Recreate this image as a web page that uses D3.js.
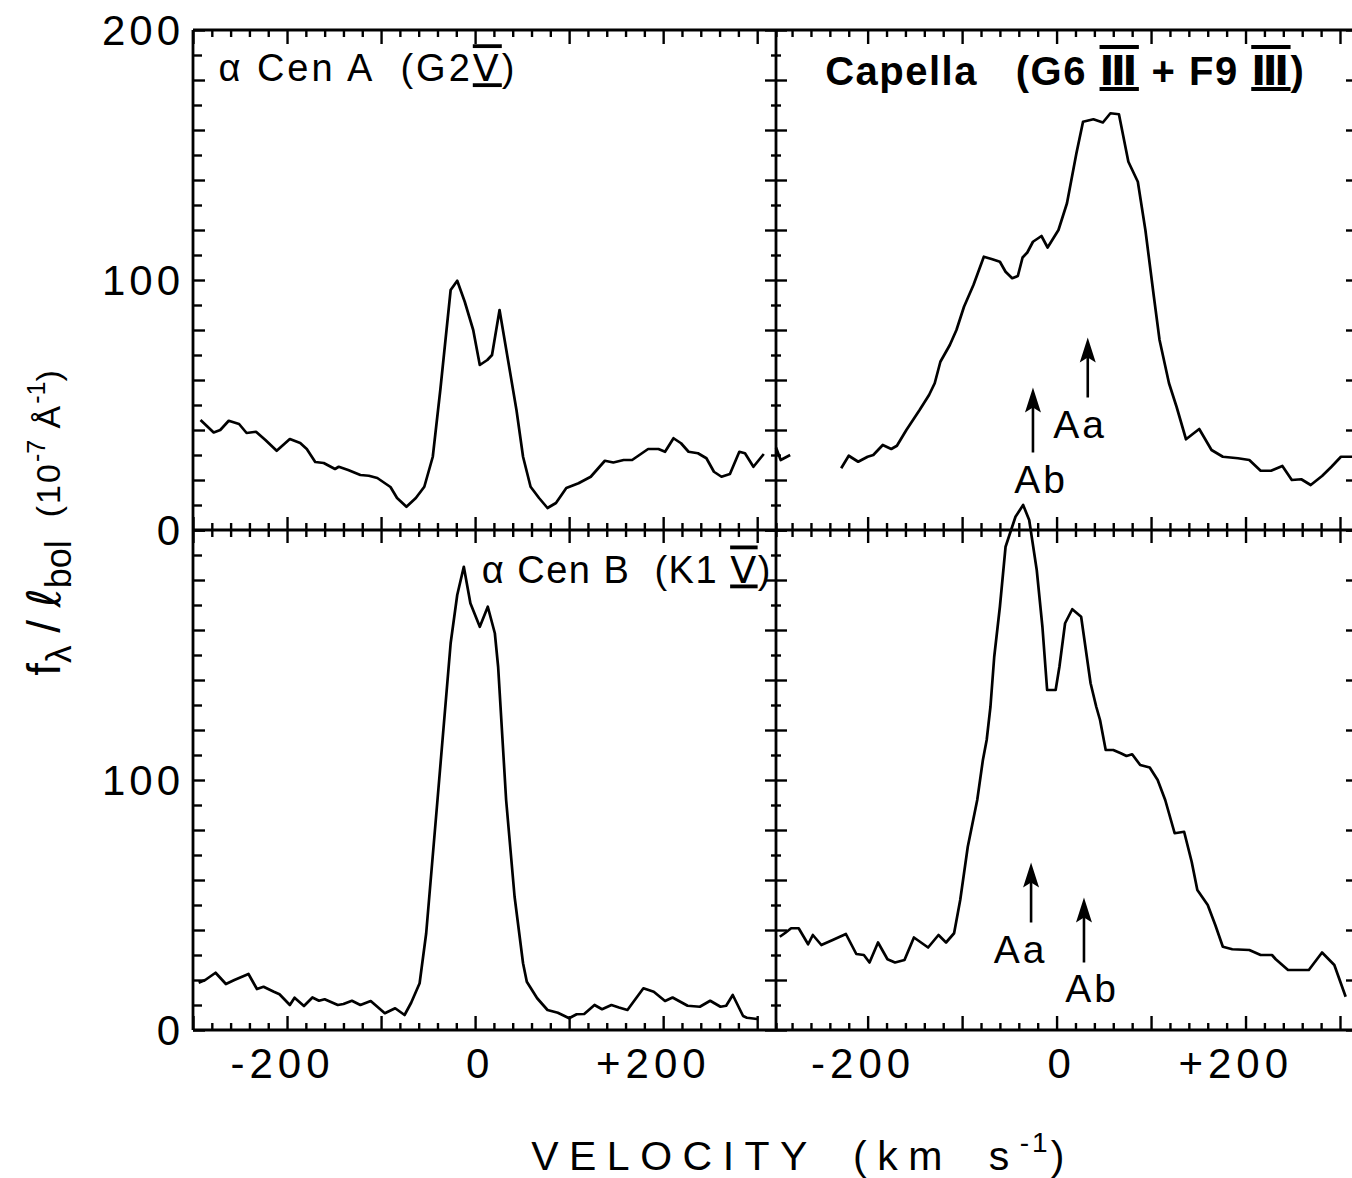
<!DOCTYPE html>
<html><head><meta charset="utf-8">
<script src="https://cdn.jsdelivr.net/npm/d3@7"></script>
<style>
body{margin:0;background:#fff}
svg{display:block}
text{font-family:"Liberation Sans",Arial,"DejaVu Sans",sans-serif;fill:#000;white-space:pre}
.rn{text-decoration:overline underline;text-decoration-thickness:3px}
</style></head>
<body><svg id="chart" width="1352" height="1178"></svg>
<script>
// ---------------- data ----------------
const cenA_vel  = [-292,-278,-271,-262,-251,-243,-233,-223,-211,-197,-186,-179,-170,-161,-149,-145,-135,-122,-113,-104,-90,-83,-73,-63,-54,-45,-37,-26,-19,-11,-2,5,13,18,26,35,44,51,59,68,77,86,97,110,123,138,147,158,167,184,195,202,211,219,227,237,246,254,262,271,281,287,296,307];
const cenA_flux = [44,39,40,43.7,42.4,38.8,39.3,36,31.7,36.4,34.8,32.4,27.2,26.8,24.4,25.3,24,22,21.7,20.8,17.2,12.8,9.3,12.8,17.3,29.3,56,96,99.7,91.3,80,66,68,70,88,68,48,29.3,17.3,12.8,8.8,10.8,16.8,18.7,21.3,27.7,27,28,28,32.4,32.4,31.3,36.7,34.7,31.3,30.7,28.7,23.3,21.3,22.4,31.3,30.7,25.3,30.4];

const capTop_vel  = [-297,-292,-282,-255,-228,-220,-210,-200,-194,-184,-175,-169,-159,-145,-135,-129,-123,-113,-106,-98,-88,-77,-68,-60,-54,-47,-41,-36,-31,-25,-16,-9.5,2,11,21,28,39,49,57,66,76,86,94,103,109,119,127,137,151,164,176,192,204,216,227,239,249,259,269,281,291,301,313];
const capTop_flux = [33,28,30,null,24.7,29.7,27.3,29.3,30,34,32.4,33.7,40,48,54,58.7,67.3,74,80,89.3,98,109.3,108.3,107.3,103.3,100.7,101.6,109,111,115.3,117.6,113,120,130.7,150.7,163.3,164.3,163,166.7,166.3,147.3,139.3,120,93.3,76,58.7,49.3,36.3,40.4,32,29.3,28.7,28,23.7,23.7,25.6,20,20.3,18,21.6,25.3,29.3,29.3];

const cenB_vel  = [-294,-287,-276,-265,-256,-241,-232,-225,-214,-208,-197,-192,-182,-173,-166,-160,-146,-140,-131,-122,-111,-96,-85,-75,-68,-59,-52,-40,-26,-19,-12,-5,5,13.5,21,24.5,33,42,51,55,66,77,88,100,108,116,127,135,145,153,162,179,190,202,210,226,239,250,261,267,274,285,289,300];
const cenB_flux = [18.9,20,22.9,18.4,20,22.4,16.4,17.3,15.3,14.3,10,12.9,9.6,13,11.7,12.3,10,10.4,11.7,10,11.6,6.7,8.7,6,10.9,18.7,38.7,92,154.7,174,185.3,170.7,161.3,169.3,158.7,145.3,92,53.3,26.7,19.3,12.7,8,6.9,4.7,6.3,6.4,10,8.3,10,9,8,16.7,15.3,11.6,13,9.7,9.3,11.7,9.3,9.7,14,5.6,4.9,4.4];

const capBot_vel  = [-293,-287,-281,-273,-263,-258,-249,-237,-223,-212,-204,-198,-189,-179,-171,-161,-151,-136,-125,-117,-108.5,-102,-94,-84,-78,-74,-70,-66,-60,-54,-43.5,-35.4,-29,-21,-15,-10,-1,3,9,16.6,26,36,42,46,52,60,68,74,80,88.5,98.6,107,115,125,135,143,149,160,168,176,186,204,216,228,232,245,267,281,294,306];
const capBot_flux = [37.3,38.9,40.7,40.7,34.3,38,34,36,38.4,30.4,30,27,35,28.3,27,28,37,33,38,35,38.7,52,73.3,92,108,116,129.3,149.3,169.3,193.3,205.3,210,204,184,161.3,136,136,145.3,162.7,168.3,165.3,138.7,129.3,124,112,112,110.7,109.6,110.3,106,105,100,92,78.7,79.3,67.3,56,50,42,33.3,32.3,32,30,30,28.3,24,24,31,26,13.3];

const xTickValues = [-200, 0, 200];
const xTickLabels = ["-200", "0", "+200"];
const yTickValuesTop = [200, 100, 0];
const yTickValuesBottom = [100, 0];

// panel titles split into plain text / roman numeral parts
const titleA = [["α Cen A  (G2", false], ["Ⅴ", true], [")", false]];
const titleCap = [["Capella   (G6 ", false], ["Ⅲ", true], [" + F9 ", false], ["Ⅲ", true], [")", false]];
const titleB = [["α Cen B  (K1 ", false], ["Ⅴ", true], [")", false]];

// arrows
const arrowPanels  = ["top", "top", "bottom", "bottom"];
const arrowVel     = [33, -25, -27, 29];
const arrowTip     = [77, 57, 67, 53];
const arrowTail    = [53, 31, 43, 27];
const arrowLabel   = ["Aa", "Ab", "Aa", "Ab"];
const arrowLabVel  = [25, -16.5, -38, 37.5];
const arrowLabFlux = [36.8, 14.8, 26.8, 11.2];

// ---------------- layout ----------------
const svg = d3.select("#chart");
const xL = d3.scaleLinear().domain([-300, 320]).range([193, 776]);
const xR = d3.scaleLinear().domain([-297, 318]).range([776, 1357]);
const yT = d3.scaleLinear().domain([0, 200]).range([530, 30]);
const yB = d3.scaleLinear().domain([0, 200]).range([1030, 530]);

const frameW = 2.8, tickW = 2.4;

function styleAxis(g){
  g.select(".domain").remove();
  g.selectAll("line").attr("stroke","#000").attr("stroke-width",tickW);
  g.selectAll("text").remove();
}
const minorX = (s) => d3.range(Math.ceil(s.domain()[0]/20)*20, s.domain()[1]+0.1, 20).filter(v=>v%100!==0);
const majorX = (s) => d3.range(Math.ceil(s.domain()[0]/100)*100, s.domain()[1]+0.1, 100);
const minorY = d3.range(10, 200, 20);
const majorY = d3.range(0, 201, 20);

[xL, xR].forEach(x => {
  svg.append("g").attr("transform",`translate(0,${yT(200)})`)
    .call(d3.axisBottom(x).tickValues(minorX(x)).tickSize(7).tickFormat("")).call(styleAxis);
  svg.append("g").attr("transform",`translate(0,${yT(200)})`)
    .call(d3.axisBottom(x).tickValues(majorX(x)).tickSize(14).tickFormat("")).call(styleAxis);
  [d3.axisBottom, d3.axisTop].forEach(ax => {
    svg.append("g").attr("transform",`translate(0,${yT(0)})`)
      .call(ax(x).tickValues(minorX(x)).tickSize(7).tickFormat("")).call(styleAxis);
    svg.append("g").attr("transform",`translate(0,${yT(0)})`)
      .call(ax(x).tickValues(majorX(x)).tickSize(13).tickFormat("")).call(styleAxis);
  });
  svg.append("g").attr("transform",`translate(0,${yB(0)})`)
    .call(d3.axisTop(x).tickValues(minorX(x)).tickSize(7).tickFormat("")).call(styleAxis);
  svg.append("g").attr("transform",`translate(0,${yB(0)})`)
    .call(d3.axisTop(x).tickValues(majorX(x)).tickSize(14).tickFormat("")).call(styleAxis);
});

[yT, yB].forEach(y => {
  svg.append("g").attr("transform",`translate(${xL(-300)},0)`)
    .call(d3.axisRight(y).tickValues(minorY).tickSize(9).tickFormat("")).call(styleAxis);
  svg.append("g").attr("transform",`translate(${xL(-300)},0)`)
    .call(d3.axisRight(y).tickValues(majorY).tickSize(12).tickFormat("")).call(styleAxis);
  [d3.axisRight, d3.axisLeft].forEach(ax => {
    svg.append("g").attr("transform",`translate(${xL(320)},0)`)
      .call(ax(y).tickValues(minorY).tickSize(5).tickFormat("")).call(styleAxis);
    svg.append("g").attr("transform",`translate(${xL(320)},0)`)
      .call(ax(y).tickValues(majorY).tickSize(11).tickFormat("")).call(styleAxis);
  });
  svg.append("g").attr("transform",`translate(${xR(318)},0)`)
    .call(d3.axisLeft(y).tickValues(majorY).tickSize(11).tickFormat("")).call(styleAxis);
});

const frame = svg.append("g").attr("stroke","#000").attr("stroke-width",frameW).attr("fill","none");
[yT(200), yT(0), yB(0)].forEach(yy => frame.append("line").attr("x1",xL(-300)).attr("x2",xR(318)).attr("y1",yy).attr("y2",yy));
[xL(-300), xL(320), xR(318)].forEach(xx => frame.append("line").attr("x1",xx).attr("x2",xx).attr("y1",yT(200)).attr("y2",yB(0)));

function drawCurve(vel, flux, x, y){
  const pts = vel.map((v,i)=>[v, flux[i]]);
  const line = d3.line().defined(d=>d[1]!==null).x(d=>x(d[0])).y(d=>y(d[1]));
  svg.append("path").datum(pts).attr("d",line)
    .attr("fill","none").attr("stroke","#000").attr("stroke-width",2.7).attr("stroke-linejoin","round");
}
drawCurve(cenA_vel, cenA_flux, xL, yT);
drawCurve(capTop_vel, capTop_flux, xR, yT);
drawCurve(cenB_vel, cenB_flux, xL, yB);
drawCurve(capBot_vel, capBot_flux, xR, yB);

const tickFont = 42;
function yLabel(v, y){
  svg.append("text").attr("x", 184).attr("y", y(v)).attr("dy","0.36em")
    .attr("text-anchor","end").attr("font-size",tickFont).attr("letter-spacing",4).text(v);
}
yTickValuesTop.forEach(v => yLabel(v, yT));
yTickValuesBottom.forEach(v => yLabel(v, yB));

[xL, xR].forEach(x => {
  xTickValues.forEach((v,i) => {
    const lab = xTickLabels[i];
    const t = svg.append("text").attr("y", 1078).attr("font-size",tickFont)
      .attr("letter-spacing",5).attr("text-anchor","start").text(lab);
    const node = t.node();
    const signLen = (lab[0]==="-"||lab[0]==="+") ? node.getSubStringLength(0,1) : 0;
    const digitsLen = node.getComputedTextLength() - signLen;
    t.attr("x", x(v) + 5 - signLen - digitsLen/2);
  });
});

// x axis title
svg.append("text").attr("x", 803).attr("y", 1170).attr("text-anchor","middle")
  .attr("font-size",41).attr("letter-spacing",10.5).attr("word-spacing",14)
  .call(t => {
    t.append("tspan").text("VELOCITY (km s");
    t.append("tspan").attr("font-size",28).attr("letter-spacing",3).attr("dy",-18).text("-1");
    t.append("tspan").attr("dy",18).text(")");
  });

// y axis title
svg.append("text").attr("transform",`translate(60,${yT(0)-7}) rotate(-90)`).attr("text-anchor","middle")
  .attr("font-size",46)
  .call(t => {
    t.append("tspan").text("f");
    t.append("tspan").attr("font-size",35).attr("dy",11).text("λ");
    t.append("tspan").attr("dy",-11).text(" / ");
    t.append("tspan").attr("font-family","DejaVu Sans").attr("font-style","italic").text("ℓ");
    t.append("tspan").attr("font-size",36).attr("dy",11).text("bol");
    t.append("tspan").attr("font-size",34).attr("dy",-11).attr("letter-spacing",2).text("  (10");
    t.append("tspan").attr("font-size",25).attr("dy",-15).text("-7");
    t.append("tspan").attr("font-size",34).attr("dy",15).attr("letter-spacing",2).text(" Å");
    t.append("tspan").attr("font-size",25).attr("dy",-15).text("-1");
    t.append("tspan").attr("font-size",34).attr("dy",15).text(")");
  });

function title(parts, x, y, size, weight, spacing){
  const t = svg.append("text").attr("x",x).attr("y",y).attr("font-size",size)
    .attr("font-weight",weight).attr("letter-spacing",spacing);
  parts.forEach(([s, rn]) => {
    const sp = t.append("tspan").text(s);
    if (rn) sp.attr("class","rn");
  });
}
title(titleA, xL(-273), yT(179.5), 38, "normal", 3);
title(titleCap, xR(-245), yT(178), 40, "bold", 1.5);
title(titleB, xL(7), yB(179), 38, "normal", 1.5);

arrowVel.forEach((v,i) => {
  const y = arrowPanels[i]==="top" ? yT : yB;
  const xx = xR(v), yTip = y(arrowTip[i]), yTail = y(arrowTail[i]);
  svg.append("line").attr("x1",xx).attr("x2",xx).attr("y1",yTail).attr("y2",yTip+10)
    .attr("stroke","#000").attr("stroke-width",2.6);
  svg.append("path").attr("d",`M${xx},${yTip} L${xx-8},${yTip+25} L${xx},${yTip+20} L${xx+8},${yTip+25} Z`).attr("fill","#000");
  svg.append("text").attr("x", xR(arrowLabVel[i])).attr("y", y(arrowLabFlux[i]))
    .attr("text-anchor","middle").attr("font-size",39).attr("letter-spacing",3).text(arrowLabel[i]);
});
</script></body></html>
